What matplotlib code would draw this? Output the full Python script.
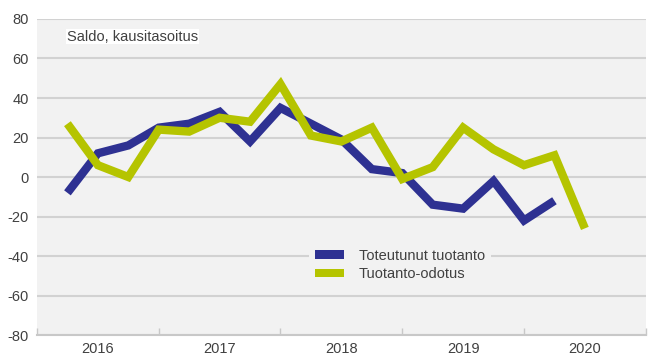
import numpy as np
import matplotlib.pyplot as plt
from matplotlib.patches import Patch

# Quarterly balance figures, 2016Q1 onwards
toteutunut = [-8, 12, 16, 25, 27, 33, 18, 35, 27, 19, 4, 2, -14, -16, -2, -22, -12]
odotus = [27, 6, 0, 24, 23, 30, 28, 47, 21, 18, 25, -1, 5, 25, 14, 6, 11, -26]
years = ['2016', '2017', '2018', '2019', '2020']
yticks = [-80, -60, -40, -20, 0, 20, 40, 60, 80]

BLUE = '#2e3192'
GREEN = '#b5c400'
TEXT = '#404040'
FS = 10.5

plt.rcParams['font.family'] = ['Liberation Sans', 'DejaVu Sans']

fig = plt.figure(figsize=(6.49, 3.58), dpi=100)
ax = fig.add_axes([0.057, 0.064, 0.938, 0.883])
ax.set_facecolor('#f2f2f2')

x1 = np.arange(1, len(toteutunut) + 1)
x2 = np.arange(1, len(odotus) + 1)
ax.plot(x1, toteutunut, color=BLUE, lw=6, solid_joinstyle='miter',
        solid_capstyle='butt', label='Toteutunut tuotanto', zorder=3)
ax.plot(x2, odotus, color=GREEN, lw=6, solid_joinstyle='miter',
        solid_capstyle='butt', label='Tuotanto-odotus', zorder=3)

ax.set_xlim(0, 20)
ax.set_ylim(-80, 80)
ax.set_yticks(yticks)
ax.set_yticklabels([str(v) for v in yticks])
ax.grid(axis='y', color='#d2d2d2', lw=1.5)
ax.set_axisbelow(True)

# year separators as ticks, labels centred between them
ax.set_xticks(np.arange(0, 21, 4))
ax.set_xticklabels([])
ax.set_xticks(np.arange(2, 20, 4), minor=True)
ax.set_xticklabels(years, minor=True)
ax.tick_params(axis='x', which='major', direction='in', length=5,
               color='#c8c8c8', width=1)
ax.tick_params(axis='x', which='minor', length=0, labelsize=FS,
               labelcolor=TEXT, pad=5)
ax.tick_params(axis='y', length=0, labelsize=FS, labelcolor=TEXT, pad=6)

for side in ['top', 'right', 'left']:
    ax.spines[side].set_visible(False)
ax.spines['bottom'].set_color('#c8c8c8')
ax.spines['bottom'].set_linewidth(1.5)

ax.text(0.98, 71, 'Saldo, kausitasoitus', fontsize=FS, color=TEXT,
        va='center', ha='left',
        bbox=dict(facecolor='white', edgecolor='none', pad=0.5))

handles = [Patch(facecolor=BLUE, label='Toteutunut tuotanto'),
           Patch(facecolor=GREEN, label='Tuotanto-odotus')]
leg = ax.legend(handles=handles, loc='upper left',
                bbox_to_anchor=(0.435, 0.315), frameon=True, fontsize=FS,
                handlelength=2.0, handleheight=0.5, handletextpad=1.0,
                labelspacing=0.3, borderpad=0.4)
leg.get_frame().set_facecolor('#f2f2f2')
leg.get_frame().set_edgecolor('none')
leg.get_frame().set_alpha(1)
for t in leg.get_texts():
    t.set_color(TEXT)

fig.savefig('out.png', dpi=100)
